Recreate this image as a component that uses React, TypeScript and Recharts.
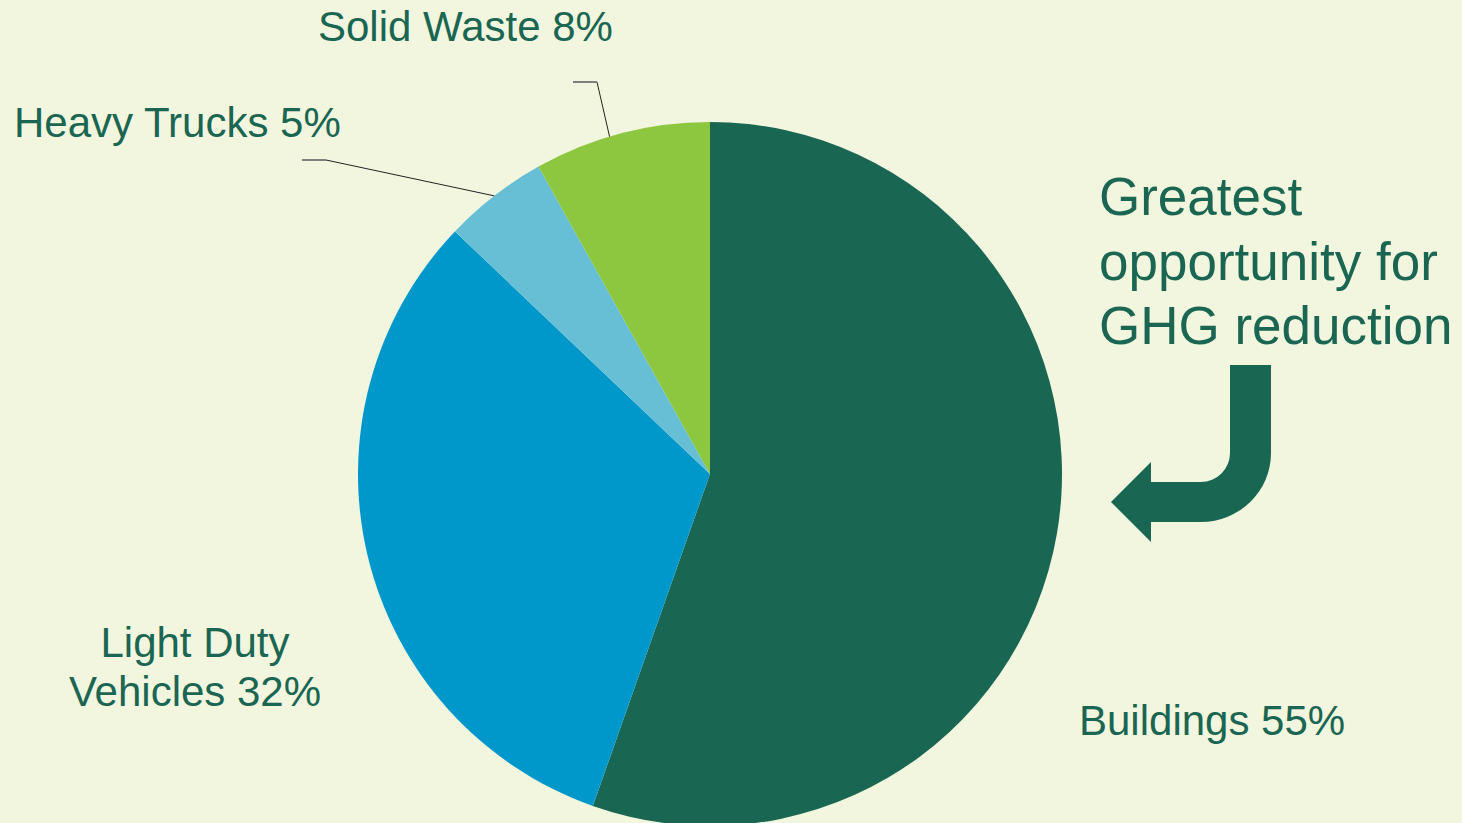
import React from 'react';
import { PieChart, Pie, Cell } from 'recharts';

const SECTORS = ['Buildings', 'Light Duty Vehicles', 'Heavy Trucks', 'Solid Waste'];
const SHARES = [55.4, 31.7, 4.8, 8.1];
const COLORS = ['#196653', '#0098CB', '#66BFD5', '#8DC63F'];

const W = 1462;
const H = 823;
const BG = '#F2F6DE';
const TEXT = '#1A6652';
const FONT = '"Liberation Sans", Arial, sans-serif';
const RAD = Math.PI / 180;

const data = SECTORS.map((name, i) => ({ name, value: SHARES[i] }));

// where each label sits; elbow = bend of the pointer line, shift = nudge of its tip (deg)
const labelLayout: Record<string, any> = {
  Buildings: { lines: ['Buildings 55%'], x: 1079, y: 735, anchor: 'start' },
  'Light Duty Vehicles': { lines: ['Light Duty', 'Vehicles 32%'], x: 195, y: 657, anchor: 'middle' },
  'Heavy Trucks': { lines: ['Heavy Trucks 5%'], x: 14, y: 137, anchor: 'start', elbow: [326, 160], tail: 302, shift: 0 },
  'Solid Waste': { lines: ['Solid Waste 8%'], x: 318, y: 41, anchor: 'start', elbow: [597, 82], tail: 573, shift: 2 },
};

const renderLabel = (props: any) => {
  const { cx, cy, midAngle, outerRadius, name } = props;
  const l = labelLayout[name];
  if (!l) return null;
  const a = midAngle + (l.shift || 0);
  const ex = cx + outerRadius * Math.cos(-a * RAD);
  const ey = cy + outerRadius * Math.sin(-a * RAD);
  return (
    <g>
      {l.elbow && (
        <>
          <line x1={ex} y1={ey} x2={l.elbow[0]} y2={l.elbow[1]} stroke="#222" strokeWidth={1} />
          <line x1={l.elbow[0]} y1={l.elbow[1]} x2={l.tail} y2={l.elbow[1]} stroke="#7f7f7f" strokeWidth={2} />
        </>
      )}
      <text x={l.x} y={l.y} textAnchor={l.anchor} fill={TEXT} fontSize={42} fontFamily={FONT}>
        {l.lines.map((t: string, i: number) => (
          <tspan key={i} x={l.x} dy={i === 0 ? 0 : 49}>{t}</tspan>
        ))}
      </text>
    </g>
  );
};

export default function App() {
  return (
    <div style={{ position: 'fixed', left: 0, top: 0, width: W, height: H, background: BG, overflow: 'hidden' }}>
      <PieChart width={W} height={H} margin={{ top: 0, right: 0, bottom: 0, left: 0 }}>
        <Pie
          data={data}
          dataKey="value"
          nameKey="name"
          cx={710}
          cy={474}
          outerRadius={352}
          startAngle={90}
          endAngle={-270}
          stroke="none"
          label={renderLabel}
          labelLine={false}
          isAnimationActive={false}
        >
          {data.map((d, i) => (
            <Cell key={d.name} fill={COLORS[i]} />
          ))}
        </Pie>
      </PieChart>
      <svg width={W} height={H} style={{ position: 'absolute', left: 0, top: 0, pointerEvents: 'none' }}>
        <text x={1099} fill={TEXT} fontSize={53} fontFamily={FONT}>
          <tspan x={1099} y={215}>Greatest</tspan>
          <tspan x={1099} y={280}>opportunity for</tspan>
          <tspan x={1099} y={344}>GHG reduction</tspan>
        </text>
        <path
          d="M1230,365 H1271 V453 A70,69 0 0 1 1201,522 H1151 V542 L1111,502 L1151,462 V482 H1201 A29,29 0 0 0 1230,453 Z"
          fill="#196653"
        />
      </svg>
    </div>
  );
}
